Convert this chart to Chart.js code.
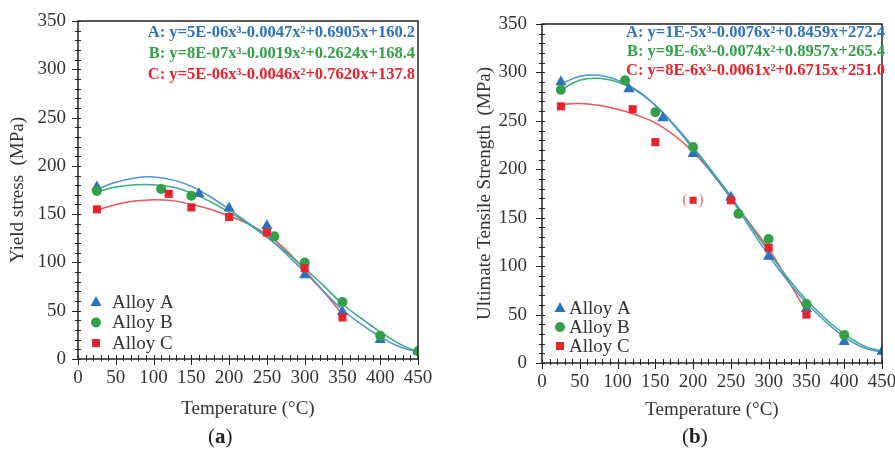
<!DOCTYPE html>
<html lang="en">
<head>
  <meta charset="UTF-8" />
  <title>Yield stress and UTS vs temperature</title>
  <script src="https://cdn.jsdelivr.net/npm/chart.js"></script>
  <style>
    body { margin: 0; background: #fff; }
    #wrap { position: relative; width: 895px; height: 450px; font-family: "Liberation Serif", serif; }
    #boxA { position: absolute; left: 0; top: 0; width: 447px; height: 425px; }
    #boxB { position: absolute; left: 447px; top: 0; width: 448px; height: 425px; }
    .cap { position: absolute; top: 424px; font-size: 21px; color: #222; }
    .cap b { font-weight: bold; }
  </style>
</head>
<body>
  <div id="wrap">
    <div id="boxA"><canvas id="chartA" width="447" height="425"></canvas></div>
    <div id="boxB"><canvas id="chartB" width="448" height="425"></canvas></div>
    <div class="cap" style="left:208px">(<b>a</b>)</div>
    <div class="cap" style="left:682px">(<b>b</b>)</div>
  </div>

  <script>
    // ---- (a) yield stress, measured points
    const ysTempA = [25, 160, 200, 250, 300, 350, 400, 450];
    const ysAlloyA = [178, 171, 156, 138, 87, 49, 20, 8];
    const ysTempB = [25, 110, 150, 260, 300, 350, 400, 450];
    const ysAlloyB = [174, 176, 169, 127, 100, 59, 24, 8];
    const ysTempC = [25, 120, 150, 200, 250, 300, 350];
    const ysAlloyC = [155, 171, 157, 147, 131, 94, 43];

    // ---- (a) trend lines
    const trendTemp = [25, 50, 75, 100, 125, 150, 175, 200, 225, 250, 275, 300, 325, 350, 375, 400, 425, 450];
    const ysTrendA = [176, 183, 187.5, 188.5, 185.5, 179, 168, 155, 141, 127, 109, 90, 70, 51, 36, 23, 13, 7];
    const ysTrendB = [173, 178, 180.5, 180.5, 178, 172, 163, 152, 140, 126, 111, 94, 76, 57, 42, 28, 16, 7];
    const ysTrendC = [154, 160, 163.5, 165, 164, 160, 155, 148, 140, 129, 113, 92, 70, 46];

    // ---- (b) ultimate tensile strength, measured points
    const utsTempA = [25, 115, 160, 200, 250, 300, 350, 400, 450];
    const utsAlloyA = [290, 283, 253, 216, 171, 110, 56, 22, 12];
    const utsTempB = [25, 110, 150, 200, 260, 300, 350, 400];
    const utsAlloyB = [282, 292, 259, 223, 154, 128, 61, 29];
    const utsTempC = [25, 120, 150, 250, 300, 350];
    const utsAlloyC = [265, 262, 228, 168, 119, 50];
    const utsOutlierTemp = [200];
    const utsOutlier = [168];

    // ---- (b) trend lines
    const utsTrendA = [288, 296, 297, 292, 282, 266, 245, 221, 196, 170, 140, 111, 85, 62, 43, 27, 16, 11];
    const utsTrendB = [282, 292, 294, 290, 281, 266, 246, 223, 198, 172, 143, 115, 88, 65, 46, 30, 18, 12];
    const utsTrendC = [267, 268, 266, 262, 256, 248, 235, 218, 196, 170, 144, 118, 86, 53];

    const xTicks = [0, 50, 100, 150, 200, 250, 300, 350, 400, 450];
    const yTicks = [0, 50, 100, 150, 200, 250, 300, 350];

    const eqA = ['A: y=5E-06x³-0.0047x²+0.6905x+160.2', 'B: y=8E-07x³-0.0019x²+0.2624x+168.4', 'C: y=5E-06x³-0.0046x²+0.7620x+137.8'];
    const eqB = ['A: y=1E-5x³-0.0076x²+0.8459x+272.4', 'B: y=9E-6x³-0.0074x²+0.8957x+265.4', 'C: y=8E-6x³-0.0061x²+0.6715x+251.0'];
    const legendNames = ['Alloy A', 'Alloy B', 'Alloy C'];

    const BLUE = '#2c72bd', GREEN = '#33a047', RED = '#e8232c';
    const BLUE_L = '#4f93d3', GREEN_L = '#35ad7a', RED_L = '#e95757';
    const SERIF = "'Liberation Serif', 'DejaVu Serif', serif";

    const pts = (xs, ys) => xs.map((x, i) => ({ x: x, y: ys[i] }));

    function marker(ctx, shape, x, y, color) {
      ctx.fillStyle = color;
      ctx.beginPath();
      if (shape === 'triangle') {
        ctx.moveTo(x, y - 6); ctx.lineTo(x + 5.5, y + 4); ctx.lineTo(x - 5.5, y + 4); ctx.closePath();
      } else if (shape === 'circle') {
        ctx.arc(x, y, 5, 0, Math.PI * 2);
      } else {
        ctx.rect(x - 4, y - 4, 8, 8);
      }
      ctx.fill();
    }

    // frame, minor ticks, legend, equations
    const decor = {
      id: 'decor',
      afterDraw(chart, args, o) {
        const ctx = chart.ctx, a = chart.chartArea;
        const xs = chart.scales.x, ys = chart.scales.y;
        ctx.save();
        ctx.strokeStyle = '#222222';
        ctx.lineWidth = 1.5;
        ctx.beginPath();
        ctx.rect(a.left, a.top, a.right - a.left, a.bottom - a.top);
        ctx.stroke();
        ctx.lineWidth = 1;
        for (let v = 0; v <= 350; v += 10) {
          const p = Math.round(ys.getPixelForValue(v)) + 0.5;
          const major = v % 50 === 0;
          ctx.beginPath();
          ctx.moveTo(a.left - (major ? 6 : 3), p);
          ctx.lineTo(a.left + 3, p);
          ctx.stroke();
        }
        for (let v = 0; v <= 450; v += 10) {
          const p = Math.round(xs.getPixelForValue(v)) + 0.5;
          const major = v % 50 === 0;
          ctx.beginPath();
          ctx.moveTo(p, a.bottom - 4);
          ctx.lineTo(p, a.bottom + (major ? 6 : 2));
          ctx.stroke();
        }

        // equations
        ctx.font = 'bold 16.5px ' + SERIF;
        ctx.textAlign = 'right';
        ctx.textBaseline = 'middle';
        const eqCol = [BLUE, GREEN, RED];
        o.eq.forEach((t, i) => {
          ctx.fillStyle = eqCol[i];
          ctx.fillText(t, a.right + o.eqDx, o.eqY + i * o.eqGap);
        });

        // legend
        const shapes = ['triangle', 'circle', 'rect'];
        ctx.font = '19px ' + SERIF;
        ctx.textAlign = 'left';
        legendNames.forEach((n, i) => {
          const y = o.legY + i * o.legGap;
          marker(ctx, shapes[i], o.legX, y, eqCol[i]);
          ctx.fillStyle = '#333';
          ctx.fillText(n, o.legX + o.legText, y + 1);
        });

        // bracketed outlier
        if (o.outlier) {
          const px = xs.getPixelForValue(utsOutlierTemp[0]);
          const py = ys.getPixelForValue(utsOutlier[0]);
          ctx.fillStyle = '#ef6a6a';
          ctx.font = '15px ' + SERIF;
          ctx.textAlign = 'center';
          ctx.fillText('(', px - 8, py);
          ctx.fillText(')', px + 8, py);
        }
        ctx.restore();
      }
    };

    function trend(data, color) {
      return { type: 'line', data: data, borderColor: color, borderWidth: 1.5, pointRadius: 0, tension: 0.4, fill: false, order: 2 };
    }
    function scatter(data, color, shape, r) {
      return { type: 'scatter', data: data, backgroundColor: color, borderColor: color, borderWidth: 0, pointStyle: shape, pointRadius: r, order: 1 };
    }

    function makeChart(id, datasets, cfg) {
      return new Chart(document.getElementById(id), {
        type: 'scatter',
        data: { datasets: datasets },
        plugins: [decor],
        options: {
          responsive: false,
          animation: false,
          layout: { padding: cfg.pad },
          plugins: {
            legend: { display: false },
            tooltip: { enabled: false },
            decor: cfg.decor
          },
          scales: {
            x: {
              type: 'linear', min: 0, max: 450,
              afterBuildTicks: s => { s.ticks = xTicks.map(v => ({ value: v })); },
              afterFit: s => { s.height = cfg.xh; s.paddingLeft = 0; s.paddingRight = 0; },
              grid: { display: false, drawTicks: false },
              border: { display: false },
              ticks: { color: '#333', padding: 8, font: { family: SERIF, size: 19 }, maxRotation: 0 },
              title: { display: true, text: 'Temperature (°C)', color: '#333', padding: { top: 0, bottom: cfg.xtPad }, font: { family: SERIF, size: 19 } }
            },
            y: {
              type: 'linear', min: 0, max: 350,
              afterBuildTicks: s => { s.ticks = yTicks.map(v => ({ value: v })); },
              afterFit: s => { s.width = cfg.yw; s.paddingTop = 0; s.paddingBottom = 0; },
              grid: { display: false, drawTicks: false },
              border: { display: false },
              ticks: { color: '#333', padding: cfg.ytickPad, font: { family: SERIF, size: 19 } },
              title: { display: true, text: cfg.ytitle, color: '#333', padding: { top: cfg.ytPad, bottom: 0 }, font: { family: SERIF, size: 19 } }
            }
          }
        }
      });
    }

    makeChart('chartA', [
      trend(pts(trendTemp, ysTrendA), BLUE_L),
      trend(pts(trendTemp, ysTrendB), GREEN_L),
      trend(pts(trendTemp, ysTrendC), RED_L),
      scatter(pts(ysTempC, ysAlloyC), RED, 'rect', 5.7),
      scatter(pts(ysTempB, ysAlloyB), GREEN, 'circle', 5),
      scatter(pts(ysTempA, ysAlloyA), BLUE, 'triangle', 6.5)
    ], {
      pad: { left: 0, right: 29, top: 21, bottom: 0 },
      xh: 66, yw: 78, xtPad: 5, ytPad: 7, ytickPad: 12,
      ytitle: 'Yield stress  (MPa)',
      decor: { eq: eqA, eqDx: -3, eqY: 33, eqGap: 21, legX: 96, legY: 302, legGap: 20.5, legText: 16 }
    });

    makeChart('chartB', [
      trend(pts(trendTemp, utsTrendA), BLUE_L),
      trend(pts(trendTemp, utsTrendB), GREEN_L),
      trend(pts(trendTemp, utsTrendC), RED_L),
      scatter(pts(utsTempC, utsAlloyC), RED, 'rect', 5.7),
      scatter(pts(utsOutlierTemp, utsOutlier), RED, 'rect', 5),
      scatter(pts(utsTempB, utsAlloyB), GREEN, 'circle', 5),
      scatter(pts(utsTempA, utsAlloyA), BLUE, 'triangle', 6.5)
    ], {
      pad: { left: 0, right: 13, top: 24, bottom: 0 },
      xh: 62, yw: 95, xtPad: 4, ytPad: 27, ytickPad: 15,
      ytitle: 'Ultimate Tensile Strength  (MPa)',
      decor: { eq: eqB, eqDx: 3, eqY: 33, eqGap: 19, legX: 113, legY: 308, legGap: 19, legText: 9, outlier: true }
    });
  </script>
</body>
</html>
